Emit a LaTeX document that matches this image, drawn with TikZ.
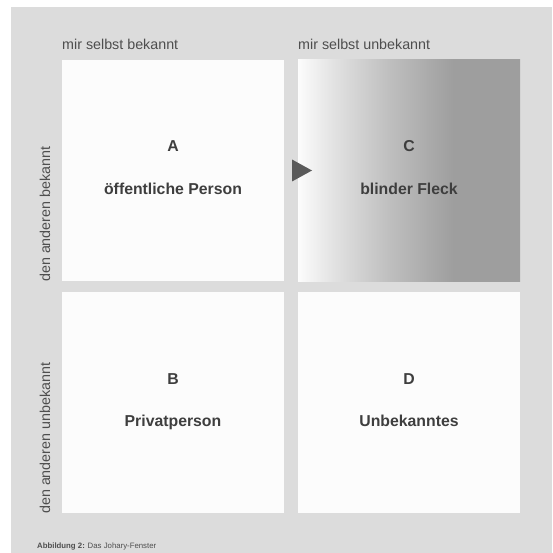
\documentclass[tikz,border=0pt]{standalone}
\usepackage{fontspec}
\setmainfont{Liberation Sans}

\definecolor{panel}{HTML}{DCDCDC}
\definecolor{paper}{HTML}{FCFCFC}
\definecolor{headink}{HTML}{4E4E4E}
\definecolor{boldink}{HTML}{3E3E3E}
\definecolor{marker}{HTML}{5A5A5A}
\definecolor{shadeLight}{HTML}{E2E2E2}
\definecolor{shadeMid}{HTML}{C0C0C0}
\definecolor{shadeDark}{HTML}{9E9E9E}

% left-to-right fade of the "blind spot" quadrant (path spans 25bp..75bp)
\pgfdeclarehorizontalshading{blindspot}{100bp}{%
  color(0bp)=(paper); color(25bp)=(paper); color(33bp)=(shadeLight);
  color(45bp)=(shadeMid); color(60bp)=(shadeDark); color(100bp)=(shadeDark)}

\tikzset{
  quad/.style={fill=paper, draw=none, minimum width=222pt, minimum height=221pt,
               anchor=north west, inner sep=0pt, outer sep=0pt},
  head/.style={text=headink, inner sep=0pt, font=\fontsize{14.3}{17}\selectfont},
  letter/.style={text=boldink, inner sep=0pt, anchor=base,
                 font=\fontsize{15.8}{18}\selectfont\bfseries},
  caption/.style={text=headink, inner sep=0pt, anchor=base west,
                  font=\fontsize{7.8}{9}\selectfont}
}

\begin{document}
\begin{tikzpicture}[x=1pt, y=-1pt]
  \useasboundingbox (0,0) rectangle (552,553);
  \fill[white] (0,0) rectangle (552,553);
  \fill[panel] (11,7) rectangle (552,553);

  % the four quadrants
  \node[quad] (A) at (62,60) {};
  \node[quad, shading=blindspot] (C) at (298,60) {};
  \node[quad] (B) at (62,292) {};
  \node[quad] (D) at (298,292) {};

  % column and row headings
  \node[head, anchor=base west] (h1) at (62,50) {mir selbst bekannt};
  \node[head, anchor=base west] (h2) at (298,50) {mir selbst unbekannt};
  \node[head, anchor=base west, rotate=90] (r1) at (50,282) {den anderen bekannt};
  \node[head, anchor=base west, rotate=90] (r2) at (50,514) {den anderen unbekannt};

  % quadrant letters and names
  \node[letter] (lA) at ([yshift=18.5pt]A.center) {A};
  \node[letter] (nA) at ([yshift=-23.5pt]A.center) {öffentliche Person};
  \node[letter] (lC) at ([yshift=18.5pt]C.center) {C};
  \node[letter] (nC) at ([yshift=-23.5pt]C.center) {blinder Fleck};
  \node[letter] (lB) at ([yshift=18.5pt]B.center) {B};
  \node[letter] (nB) at ([yshift=-23.5pt]B.center) {Privatperson};
  \node[letter] (lD) at ([yshift=18.5pt]D.center) {D};
  \node[letter] (nD) at ([yshift=-23.5pt]D.center) {Unbekanntes};

  % pointer from A into C
  \fill[marker] ([xshift=-6pt, yshift=11pt]C.west) -- ([xshift=-6pt, yshift=-11pt]C.west)
        -- ([xshift=14pt]C.west) -- cycle;

  % caption
  \node[caption] (cap) at (37,548) {\textbf{Abbildung 2:} Das Johary-Fenster};
\end{tikzpicture}
\end{document}
